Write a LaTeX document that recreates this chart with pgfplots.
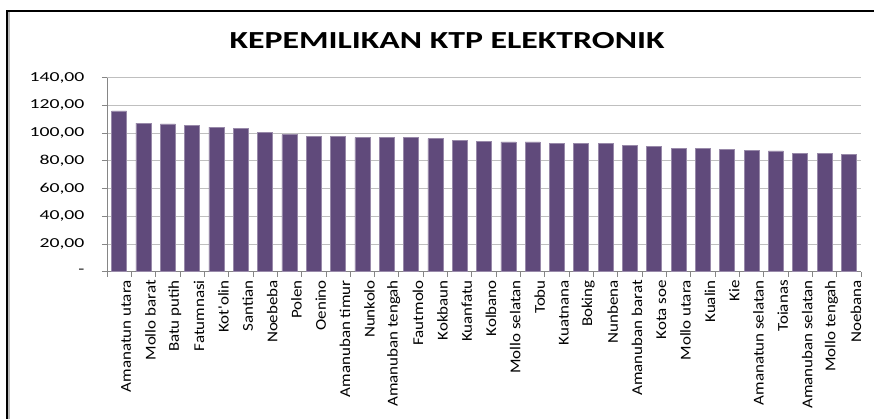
\documentclass[border=0pt]{standalone}
\usepackage{pgfplots}
\pgfplotsset{compat=1.18}
\usepackage{fontspec}
\setmainfont{Carlito}
\newfontfamily\tickfont[FakeStretch=1.44]{Carlito}
\newfontfamily\xlabfont[FakeStretch=1.13]{Carlito}
\newfontfamily\titlefont[FakeStretch=1.38]{Carlito}
\definecolor{barc}{HTML}{604A7B}
\definecolor{gridc}{HTML}{BFBFBF}
\definecolor{axc}{HTML}{868686}
\begin{document}
\begin{tikzpicture}[x=1pt,y=1pt]
\path[use as bounding box] (0,0) rectangle (874,419);
\fill[gray!55] (8,0) rectangle (9.5,407);
\draw[line width=2pt] (7,0) -- (7,408) -- (874,408);
\node[font=\titlefont\bfseries\fontsize{24.5}{26}\selectfont, anchor=base] at (447,370) {KEPEMILIKAN KTP ELEKTRONIK};
\begin{axis}[
  at={(107pt,147.3pt)}, anchor=south west,
  scale only axis, width=754pt, height=194pt,
  xmin=0.5, xmax=31.5, ymin=0, ymax=140,
  ybar, bar width=15pt,
  axis x line*=bottom, axis y line*=left,
  axis line style={axc, line width=0.8pt},
  ymajorgrids, grid style={gridc, line width=0.8pt},
  ytick={0,20,...,140},
  yticklabels={-,20{,}00,40{,}00,60{,}00,80{,}00,100{,}00,120{,}00,140{,}00},
  yticklabel style={font=\tickfont\fontsize{13.7}{14}\selectfont, text=black, xshift=-14pt},
  ytick style={axc, line width=0.8pt}, tick align=outside, major tick length=5pt,
  xtick={1,...,31},
  x tick style={draw=none},
  xticklabels={Amanatun utara,Mollo barat,Batu putih,Fatumnasi,Kot'olin,Santian,Noebeba,Polen,Oenino,Amanuban timur,Nunkolo,Amanuban tengah,Fautmolo,Kokbaun,Kuanfatu,Kolbano,Mollo selatan,Tobu,Kuatnana,Boking,Nunbena,Amanuban barat,Kota soe,Mollo utara,Kualin,Kie,Amanatun selatan,Toianas,Amanuban selatan,Mollo tengah,Noebana},
  xticklabel style={rotate=90, anchor=east, font=\xlabfont\fontsize{15}{15}\selectfont, text=black, yshift=-7pt},
  extra x ticks={0.5,1.5,...,31.5},
  extra x tick labels={},
  extra x tick style={x tick style={draw=axc, line width=0.8pt}, major tick length=5pt, tick align=outside, grid=none},
  clip=false,
]
\addplot[fill=barc, draw=barc!65!white, line width=0.6pt] coordinates {
(1,116.0) (2,107.3) (3,106.6) (4,105.6) (5,104.4) (6,103.5) (7,100.8) (8,98.9)
(9,97.9) (10,97.9) (11,96.7) (12,96.7) (13,96.7) (14,96.0) (15,95.0) (16,94.1)
(17,93.6) (18,93.6) (19,92.4) (20,92.4) (21,92.4) (22,91.2) (23,90.2) (24,89.0)
(25,89.0) (26,88.0) (27,87.6) (28,87.1) (29,85.1) (30,85.1) (31,84.6)
};
\end{axis}
\end{tikzpicture}
\end{document}
